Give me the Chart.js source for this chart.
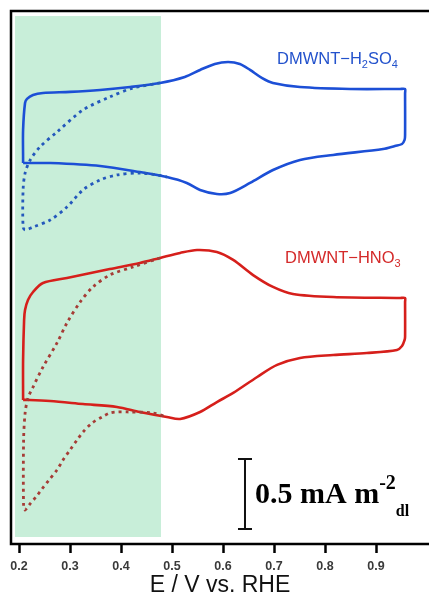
<!DOCTYPE html>
<html>
<head>
<meta charset="utf-8">
<script src="https://cdn.jsdelivr.net/npm/chart.js@4.4.1/dist/chart.umd.min.js"></script>
<style>
html, body { margin: 0; padding: 0; overflow: hidden; background: #fff; }
#wrap { width: 429px; height: 599px; }
</style>
</head>
<body>
<div id="wrap"><canvas id="cv" width="429" height="599"></canvas></div>
<script>
// E in V vs. RHE, current in mA m-2 (the two CVs are stacked with an offset)
var tickValues = [0.2, 0.3, 0.4, 0.5, 0.6, 0.7, 0.8, 0.9];

// DMWNT-H2SO4, steady cycle (solid)
var h2so4E = [0.208, 0.208, 0.208, 0.2118, 0.2157, 0.2275, 0.247, 0.300, 0.359, 0.418, 0.4765, 0.525, 0.555, 0.584, 0.610, 0.633, 0.653, 0.676, 0.698, 0.751, 0.849, 0.947, 0.957, 0.957, 0.957, 0.956, 0.951, 0.937, 0.914, 0.816, 0.751, 0.698, 0.653, 0.614, 0.588, 0.555, 0.529, 0.490, 0.437, 0.359, 0.261, 0.220, 0.208];
var h2so4I = [2.721, 2.750, 2.957, 3.150, 3.179, 3.207, 3.221, 3.229, 3.243, 3.264, 3.293, 3.336, 3.386, 3.429, 3.443, 3.429, 3.386, 3.329, 3.293, 3.264, 3.250, 3.250, 3.250, 3.220, 2.920, 2.886, 2.857, 2.843, 2.821, 2.779, 2.743, 2.671, 2.579, 2.507, 2.500, 2.529, 2.579, 2.621, 2.657, 2.700, 2.721, 2.721, 2.721];
// DMWNT-H2SO4, first cycle (dotted)
var h2so4DotE = [0.4765, 0.4235, 0.378, 0.3255, 0.2745, 0.241, 0.222, 0.212, 0.208, 0.208, 0.212, 0.2275, 0.261, 0.294, 0.3255, 0.359, 0.392, 0.437, 0.4765, 0.490];
var h2so4DotI = [3.293, 3.257, 3.193, 3.100, 2.943, 2.836, 2.743, 2.650, 2.529, 2.264, 2.243, 2.264, 2.314, 2.407, 2.529, 2.600, 2.636, 2.650, 2.632, 2.621];

// DMWNT-HNO3, steady cycle (solid)
var hno3E = [0.208, 0.208, 0.208, 0.210, 0.2118, 0.2176, 0.2275, 0.247, 0.294, 0.378, 0.437, 0.4765, 0.516, 0.549, 0.588, 0.620, 0.659, 0.698, 0.737, 0.816, 0.947, 0.957, 0.957, 0.957, 0.956, 0.951, 0.941, 0.882, 0.816, 0.751, 0.706, 0.667, 0.620, 0.588, 0.555, 0.516, 0.490, 0.437, 0.392, 0.3255, 0.261, 0.220, 0.208];
var hno3I = [1.029, 1.060, 1.314, 1.600, 1.671, 1.743, 1.800, 1.864, 1.900, 1.964, 2.007, 2.043, 2.079, 2.100, 2.086, 2.029, 1.921, 1.836, 1.786, 1.764, 1.757, 1.757, 1.730, 1.480, 1.457, 1.414, 1.386, 1.364, 1.350, 1.329, 1.279, 1.193, 1.079, 1.014, 0.943, 0.893, 0.907, 0.943, 0.979, 1.000, 1.021, 1.029, 1.029];
// DMWNT-HNO3, first cycle (dotted)
var hno3DotE = [0.4765, 0.4235, 0.378, 0.345, 0.320, 0.294, 0.2745, 0.247, 0.2275, 0.2176, 0.212, 0.209, 0.209, 0.2118, 0.2216, 0.2333, 0.2451, 0.2588, 0.2745, 0.2863, 0.300, 0.3137, 0.3255, 0.3431, 0.3627, 0.3784, 0.3941, 0.4118, 0.463, 0.490];
var hno3DotI = [2.043, 1.979, 1.921, 1.836, 1.729, 1.579, 1.436, 1.264, 1.121, 1.043, 0.936, 0.743, 0.264, 0.243, 0.286, 0.336, 0.393, 0.457, 0.529, 0.600, 0.671, 0.743, 0.800, 0.864, 0.907, 0.936, 0.943, 0.943, 0.936, 0.907];

var shadeE = [0.1922, 0.4784];
var shadeI = [0.05, 3.771];
var barE = 0.6431, barI0 = 0.107, barLen = 0.5;

function pts(xs, ys) {
  return xs.map(function(v, i) { return { x: v, y: ys[i] }; });
}

function drawChem(ctx, parts, x, y, size, color) {
  ctx.fillStyle = color;
  ctx.textBaseline = 'alphabetic';
  ctx.textAlign = 'left';
  parts.forEach(function(p) {
    if (p[1]) {
      ctx.font = Math.round(size * 0.65) + 'px "Liberation Sans", Arial, sans-serif';
      ctx.fillText(p[0], x, y + size * 0.25);
    } else {
      ctx.font = size + 'px "Liberation Sans", Arial, sans-serif';
      ctx.fillText(p[0], x, y);
    }
    x += ctx.measureText(p[0]).width;
  });
}

var decor = {
  id: 'decor',
  beforeDatasetsDraw: function(chart) {
    var ctx = chart.ctx, sx = chart.scales.x, sy = chart.scales.y;
    var l = sx.getPixelForValue(shadeE[0]), r = sx.getPixelForValue(shadeE[1]);
    var t = sy.getPixelForValue(shadeI[1]), b = sy.getPixelForValue(shadeI[0]);
    ctx.save();
    ctx.fillStyle = '#c8eed9';
    ctx.fillRect(l, t, r - l, b - t);
    ctx.restore();
  },
  afterDatasetsDraw: function(chart) {
    var ctx = chart.ctx, a = chart.chartArea, sx = chart.scales.x, sy = chart.scales.y;
    ctx.save();
    // frame
    ctx.strokeStyle = '#000';
    ctx.lineWidth = 2.5;
    ctx.beginPath();
    ctx.moveTo(a.right + 3, a.top);
    ctx.lineTo(a.left, a.top);
    ctx.lineTo(a.left, a.bottom);
    ctx.lineTo(a.right + 3, a.bottom);
    ctx.stroke();

    // scale bar
    var bx = sx.getPixelForValue(barE);
    var b0 = sy.getPixelForValue(barI0), b1 = sy.getPixelForValue(barI0 + barLen);
    ctx.lineWidth = 2;
    ctx.strokeStyle = '#111';
    ctx.beginPath();
    ctx.moveTo(bx, b0); ctx.lineTo(bx, b1);
    ctx.moveTo(bx - 7, b0); ctx.lineTo(bx + 7, b0);
    ctx.moveTo(bx - 7, b1); ctx.lineTo(bx + 7, b1);
    ctx.stroke();

    ctx.fillStyle = '#000';
    ctx.textAlign = 'left';
    ctx.textBaseline = 'alphabetic';
    ctx.font = 'bold 30px "Liberation Serif", "Times New Roman", serif';
    var tx = bx + 10;
    ctx.fillText('0.5 mA m', tx, b0 - 26);
    tx += ctx.measureText('0.5 mA m').width;
    ctx.font = 'bold 20px "Liberation Serif", "Times New Roman", serif';
    ctx.fillText('-2', tx, b0 - 40);
    tx += ctx.measureText('-2').width;
    ctx.font = 'bold 16px "Liberation Serif", "Times New Roman", serif';
    ctx.fillText('dl', tx, b0 - 13);

    // curve labels
    drawChem(ctx, [['DMWNT\u2212H', 0], ['2', 1], ['SO', 0], ['4', 1]],
      sx.getPixelForValue(0.706), sy.getPixelForValue(3.429), 16.5, '#2352cc');
    drawChem(ctx, [['DMWNT\u2212HNO', 0], ['3', 1]],
      sx.getPixelForValue(0.7216), sy.getPixelForValue(2.007), 16.5, '#d42a2a');
    ctx.restore();
  }
};

var solid = { showLine: true, pointRadius: 0, borderWidth: 2.6, tension: 0.3, fill: false, order: 1 };
function ds(data, color, dotted) {
  var d = Object.assign({}, solid, { data: data, borderColor: color });
  if (dotted) {
    d.borderDash = [3, 4];
    d.borderWidth = 2.8;
    d.order = 0;
  }
  return d;
}

new Chart(document.getElementById('cv'), {
  type: 'scatter',
  data: {
    datasets: [
      ds(pts(h2so4E, h2so4I), '#1c4fd6', false),
      ds(pts(h2so4DotE, h2so4DotI), '#2458bc', true),
      ds(pts(hno3E, hno3I), '#d61f1b', false),
      ds(pts(hno3DotE, hno3DotI), '#a63c36', true)
    ]
  },
  options: {
    responsive: false,
    animation: false,
    devicePixelRatio: 1,
    layout: { padding: { left: 11, top: 11, right: 0, bottom: 0 } },
    plugins: { legend: { display: false }, tooltip: { enabled: false } },
    scales: {
      x: {
        type: 'linear',
        min: 0.1843,
        max: 1.0039,
        afterBuildTicks: function(s) { s.ticks = tickValues.map(function(v) { return { value: v }; }); },
        afterFit: function(s) { s.height = 55; },
        grid: { display: true, drawOnChartArea: false, drawTicks: true, tickLength: 9, tickWidth: 2.5, tickColor: '#000' },
        border: { display: false },
        ticks: {
          padding: 6,
          maxRotation: 0,
          color: '#3a3a3a',
          font: { family: '"Liberation Sans", Arial, sans-serif', size: 12.5, weight: 'bold' },
          callback: function(v) { return v.toFixed(1); }
        },
        title: {
          display: true,
          text: 'E / V vs. RHE',
          color: '#111',
          padding: 0,
          font: { family: '"Liberation Sans", Arial, sans-serif', size: 23 }
        }
      },
      y: { display: false, min: 0, max: 3.807 }
    }
  },
  plugins: [decor]
});
</script>
</body>
</html>
